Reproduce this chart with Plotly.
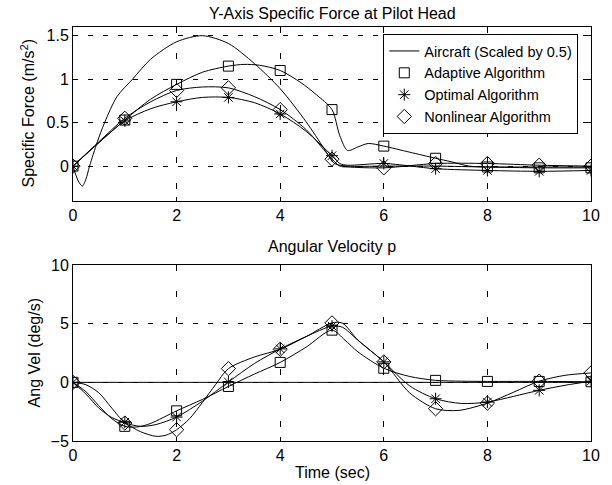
import plotly.graph_objects as go

# ---------------- data ----------------
# Top: Y-axis specific force (m/s^2)
t_air_f = [0, 0.1, 0.18, 0.25, 0.32, 0.47, 0.61, 0.85, 1.15, 1.5, 2, 2.5, 3, 3.5, 4, 4.5, 4.85, 5.05, 5.3, 6, 7, 8, 9, 10]
air_f = [0, -0.17, -0.23, -0.15, 0, 0.28, 0.5, 0.8, 1.0, 1.23, 1.43, 1.5, 1.41, 1.18, 0.89, 0.51, 0.2, 0.03, 0.0, 0.0, 0.0, -0.01, -0.01, -0.01]

t_ada_f = [0, 0.5, 1, 1.5, 2, 2.5, 3, 3.3, 3.6, 4, 4.4, 4.7, 5, 5.15, 5.3, 5.5, 5.7, 6, 6.5, 7, 7.3, 7.65, 8, 9, 10]
ada_f = [0, 0.27, 0.53, 0.77, 0.94, 1.08, 1.15, 1.17, 1.16, 1.1, 0.96, 0.82, 0.65, 0.35, 0.18, 0.22, 0.26, 0.23, 0.16, 0.09, 0.05, 0.0, -0.01, -0.02, -0.02]

t_opt_f = [0, 0.5, 1, 1.5, 2, 2.5, 3, 3.5, 4, 4.5, 5, 5.15, 5.3, 6, 7, 8, 9, 10]
opt_f = [0, 0.27, 0.52, 0.66, 0.74, 0.79, 0.79, 0.73, 0.6, 0.4, 0.12, 0.03, 0.01, 0.03, -0.03, -0.05, -0.06, -0.05]

t_non_f = [0, 0.5, 1, 1.5, 2, 2.5, 3, 3.5, 4, 4.5, 5, 5.15, 5.3, 6, 7, 8, 9, 10]
non_f = [0, 0.28, 0.55, 0.74, 0.87, 0.91, 0.9, 0.8, 0.65, 0.42, 0.08, 0.0, -0.01, -0.02, 0.03, 0.03, 0.01, 0.0]

# Bottom: angular velocity p (deg/s)
t_air_p = [0, 10]
air_p = [0, 0]

t_ada_p = [0, 0.25, 0.5, 0.75, 1, 1.25, 1.5, 2, 2.5, 3, 3.5, 4, 4.5, 5, 5.25, 5.5, 6, 6.5, 7, 7.5, 8, 9, 10]
ada_p = [0, -0.8, -2.0, -3.1, -3.75, -3.8, -3.5, -2.43, -1.45, -0.35, 0.7, 1.7, 3.0, 4.45, 3.6, 2.6, 1.2, 0.5, 0.17, 0.1, 0.08, 0.08, 0.05]

t_opt_p = [0, 0.25, 0.5, 0.75, 1, 1.3, 1.6, 2, 2.5, 3, 3.5, 4, 4.5, 5, 5.2, 5.5, 6, 6.5, 7, 7.5, 8, 8.5, 9, 9.5, 10]
opt_p = [0, -0.2, -0.9, -2.2, -3.4, -3.75, -3.6, -2.96, -1.6, 0.03, 1.6, 2.85, 3.9, 4.8, 4.7, 3.6, 1.75, -0.3, -1.4, -1.8, -1.68, -1.2, -0.68, -0.25, 0.1]

t_non_p = [0, 0.25, 0.5, 0.75, 1, 1.3, 1.6, 1.8, 2, 2.25, 2.5, 2.75, 3, 3.5, 4, 4.5, 5, 5.2, 5.5, 6, 6.5, 7, 7.45, 8, 8.5, 9, 9.5, 10]
non_p = [0, -1.0, -2.2, -3.0, -3.47, -4.2, -4.6, -4.5, -4.04, -3.1, -1.7, -0.2, 1.17, 2.16, 2.82, 3.9, 5.07, 5.05, 3.6, 1.74, -0.9, -2.25, -2.39, -1.77, -0.85, 0.1, 0.6, 0.8]

names = ["Aircraft (Scaled by 0.5)", "Adaptive Algorithm", "Optimal Algorithm", "Nonlinear Algorithm"]
x_ticks = [0, 2, 4, 6, 8, 10]
yf_ticks = [0, 0.5, 1, 1.5]
yf_ticktext = ["0", "0.5", "1", "1.5"]
yp_ticks = [-5, 0, 5, 10]

title_top = "Y-Axis Specific Force at Pilot Head"
title_bot = "Angular Velocity p"
ylab_top = "Specific Force (m/s<sup>2</sup>)"
ylab_bot = "Ang Vel (deg/s)"
xlab = "Time (sec)"

# ---------------- figure ----------------
FONT = "Liberation Sans, Arial, sans-serif"
fig = go.Figure()


def markers_at_integers(ts, vs):
    mt, mv = [], []
    for t, v in zip(ts, vs):
        if float(t).is_integer():
            mt.append(t)
            mv.append(v)
    return mt, mv


line_style = dict(color="black", width=1, shape="spline", smoothing=0.8)

series = [
    (t_air_f, air_f, t_air_p, air_p, None),
    (t_ada_f, ada_f, t_ada_p, ada_p, ("square-open", 10)),
    (t_opt_f, opt_f, t_opt_p, opt_p, ("asterisk-open", 10)),
    (t_non_f, non_f, t_non_p, non_p, ("diamond-open", 11)),
]

for i, (tf, vf, tp, vp, mk) in enumerate(series):
    fig.add_trace(go.Scatter(x=tf, y=vf, mode="lines", line=line_style,
                             name=names[i], showlegend=(mk is None), legendrank=1,
                             xaxis="x", yaxis="y"))
    fig.add_trace(go.Scatter(x=tp, y=vp, mode="lines",
                             line=line_style if len(tp) > 2 else dict(color="black", width=1),
                             showlegend=False, xaxis="x2", yaxis="y2"))

for i, (tf, vf, tp, vp, mk) in enumerate(series):
    if mk is None:
        continue
    sym, sz = mk
    mstyle = dict(symbol=sym, size=sz, color="black", line=dict(color="black", width=1))
    mt, mv = markers_at_integers(tf, vf)
    fig.add_trace(go.Scatter(x=mt, y=mv, mode="markers", marker=mstyle, name=names[i],
                             showlegend=True, legendrank=i + 1, xaxis="x", yaxis="y"))
    mt, mv = markers_at_integers(tp, vp)
    fig.add_trace(go.Scatter(x=mt, y=mv, mode="markers", marker=mstyle, name=names[i],
                             showlegend=False, xaxis="x2", yaxis="y2"))

axis_common = dict(showline=True, linecolor="black", linewidth=1, mirror="ticks",
                   ticks="inside", ticklen=4, tickcolor="black", zeroline=False,
                   showgrid=True, gridcolor="black", gridwidth=1,
                   tickfont=dict(family=FONT, size=16, color="black"))

fig.update_layout(
    width=612, height=485,
    margin=dict(l=73, r=15, t=27, b=44),
    paper_bgcolor="white", plot_bgcolor="white",
    font=dict(family=FONT, size=16, color="black"),
    xaxis=dict(domain=[0, 1], anchor="y", range=[0, 10], tickvals=x_ticks,
               griddash="6px,20px", **axis_common),
    yaxis=dict(domain=[0.58, 1], anchor="x", range=[-0.4, 1.6], tickvals=yf_ticks,
               ticktext=yf_ticktext, griddash="5px,10px", **axis_common),
    xaxis2=dict(domain=[0, 1], anchor="y2", range=[0, 10], tickvals=x_ticks,
                griddash="6px,20px", **axis_common),
    yaxis2=dict(domain=[0, 0.425], anchor="x2", range=[-5, 10], tickvals=yp_ticks,
                griddash="5px,10px", **axis_common),
    legend=dict(x=0.599, y=0.983, xanchor="left", yanchor="top",
                bgcolor="white", bordercolor="black", borderwidth=1,
                font=dict(family=FONT, size=14.5, color="black"),
                tracegroupgap=0, itemwidth=30),
    showlegend=True,
)

ann_font = dict(family=FONT, size=16, color="black")
fig.add_annotation(text=title_top, xref="paper", yref="paper", x=0.5, y=1.0338,
                   xanchor="center", yanchor="middle", showarrow=False, font=ann_font)
fig.add_annotation(text=title_bot, xref="paper", yref="paper", x=0.5, y=0.4686,
                   xanchor="center", yanchor="middle", showarrow=False, font=ann_font)
fig.add_annotation(text=xlab, xref="paper", yref="paper", x=0.5, y=-0.0749,
                   xanchor="center", yanchor="middle", showarrow=False, font=ann_font)
fig.add_annotation(text=ylab_top, xref="paper", yref="paper", x=-0.0878, y=0.79,
                   xanchor="center", yanchor="middle", textangle=-90, showarrow=False, font=ann_font)
fig.add_annotation(text=ylab_bot, xref="paper", yref="paper", x=-0.0725, y=0.2126,
                   xanchor="center", yanchor="middle", textangle=-90, showarrow=False, font=ann_font)

fig.write_html("out.html")
